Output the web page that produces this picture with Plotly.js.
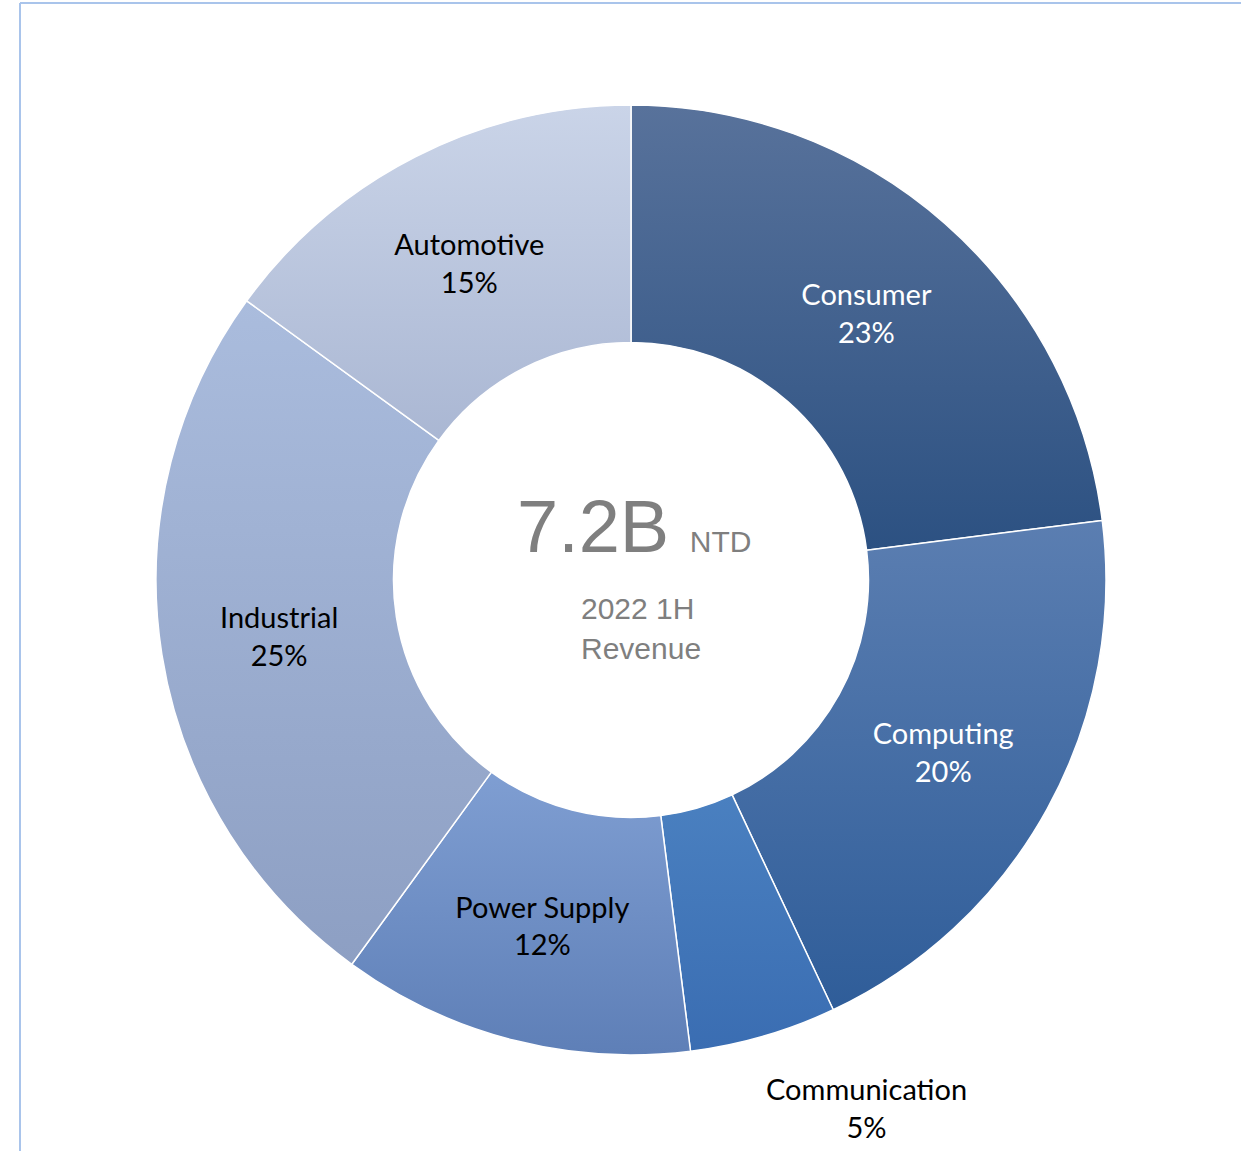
<!DOCTYPE html>
<html>
<head>
<meta charset="utf-8">
<script src="https://cdn.plot.ly/plotly-3.0.1.min.js"></script>
<style>
html,body{margin:0;padding:0;background:#fff;}
#chart{width:1241px;height:1151px;}
</style>
</head>
<body>
<div id="chart"></div>
<script>
const categories = ["Consumer", "Computing", "Communication", "Power Supply", "Industrial", "Automotive"];
const shares = [23, 20, 5, 12, 25, 15];
const sliceColors = ["#3f5f8f", "#4170a8", "#3f73b7", "#6f8fc5", "#9daecf", "#bac6df"];
const gradTop = ["#58729b", "#5b7eb1", "#4a80c0", "#7f9ed2", "#aabcdd", "#cad4e8"];
const gradBottom = ["#2c5182", "#2f5d99", "#3a6db2", "#5e7fb7", "#8d9fc3", "#aab7d3"];
const labelColors = ["#ffffff", "#ffffff", "#000000", "#000000", "#000000", "#000000"];
const insideLabel = [true, true, false, true, true, true];
const centerValue = "7.2B";
const centerUnit = "NTD";
const centerLine1 = "2022 1H";
const centerLine2 = "Revenue";

// plot geometry (pixels)
const W = 1241, H = 1151;
const L = 156, T = 105, S = 950;
const R = W - L - S, B = H - T - S;
const px = x => (x - L) / S;
const py = y => (T + S - y) / S;

const labelFont = "Lato, 'Liberation Sans', sans-serif";

const trace = {
  type: "pie",
  labels: categories,
  values: shares,
  hole: 0.5,
  sort: false,
  direction: "clockwise",
  rotation: 0,
  marker: { colors: sliceColors, line: { color: "#ffffff", width: 1.5 } },
  texttemplate: categories.map((c, i) => insideLabel[i] ? "%{label}<br>%{value}%" : ""),
  textposition: "inside",
  insidetextorientation: "horizontal",
  textfont: { family: labelFont, size: 29, color: labelColors },
  automargin: false,
  showlegend: false,
  hoverinfo: "label+percent"
};

const centerFont = { family: "'Liberation Sans', Arial, sans-serif", color: "#7f7f7f" };

const annotations = [
  { xref: "paper", yref: "paper", x: px(634), y: py(526), xanchor: "center", yanchor: "middle",
    text: centerValue + " <span style='font-size:30px'>" + centerUnit + "</span>", showarrow: false,
    font: Object.assign({ size: 74 }, centerFont) },
  { xref: "paper", yref: "paper", x: px(637), y: py(608), xanchor: "center", yanchor: "middle",
    text: centerLine1, showarrow: false, font: Object.assign({ size: 30 }, centerFont) },
  { xref: "paper", yref: "paper", x: px(641), y: py(648), xanchor: "center", yanchor: "middle",
    text: centerLine2, showarrow: false, font: Object.assign({ size: 30 }, centerFont) }
];
categories.forEach((c, i) => {
  if (!insideLabel[i]) {
    annotations.push({ xref: "paper", yref: "paper", x: px(866), y: py(1107), xanchor: "center", yanchor: "middle",
      text: c + "<br>" + shares[i] + "%", showarrow: false,
      font: { family: labelFont, size: 29, color: labelColors[i] } });
  }
});

const layout = {
  width: W, height: H,
  margin: { l: L, r: R, t: T, b: B, pad: 0 },
  paper_bgcolor: "#ffffff",
  plot_bgcolor: "#ffffff",
  showlegend: false,
  shapes: [
    { type: "line", xref: "paper", yref: "paper", x0: px(20), x1: px(1260), y0: py(3), y1: py(3),
      line: { color: "#a9c4eb", width: 2 } },
    { type: "line", xref: "paper", yref: "paper", x0: px(20), x1: px(20), y0: py(3), y1: py(1170),
      line: { color: "#a9c4eb", width: 2 } }
  ],
  annotations: annotations
};

Plotly.newPlot("chart", [trace], layout, { displayModeBar: false, staticPlot: true }).then(gd => {
  const svg = gd.querySelector("svg.main-svg");
  const ns = "http://www.w3.org/2000/svg";
  let defs = svg.querySelector("defs");
  if (!defs) { defs = document.createElementNS(ns, "defs"); svg.insertBefore(defs, svg.firstChild); }
  const paths = gd.querySelectorAll("g.slice path.surface");
  paths.forEach((p, i) => {
    const g = document.createElementNS(ns, "linearGradient");
    g.setAttribute("id", "sliceGrad" + i);
    g.setAttribute("x1", "0"); g.setAttribute("y1", "0");
    g.setAttribute("x2", "0"); g.setAttribute("y2", "1");
    [[0, gradTop[i]], [1, gradBottom[i]]].forEach(([o, col]) => {
      const s = document.createElementNS(ns, "stop");
      s.setAttribute("offset", o);
      s.setAttribute("stop-color", col);
      g.appendChild(s);
    });
    defs.appendChild(g);
    p.style.fill = "url(#sliceGrad" + i + ")";
  });
});
</script>
</body>
</html>
